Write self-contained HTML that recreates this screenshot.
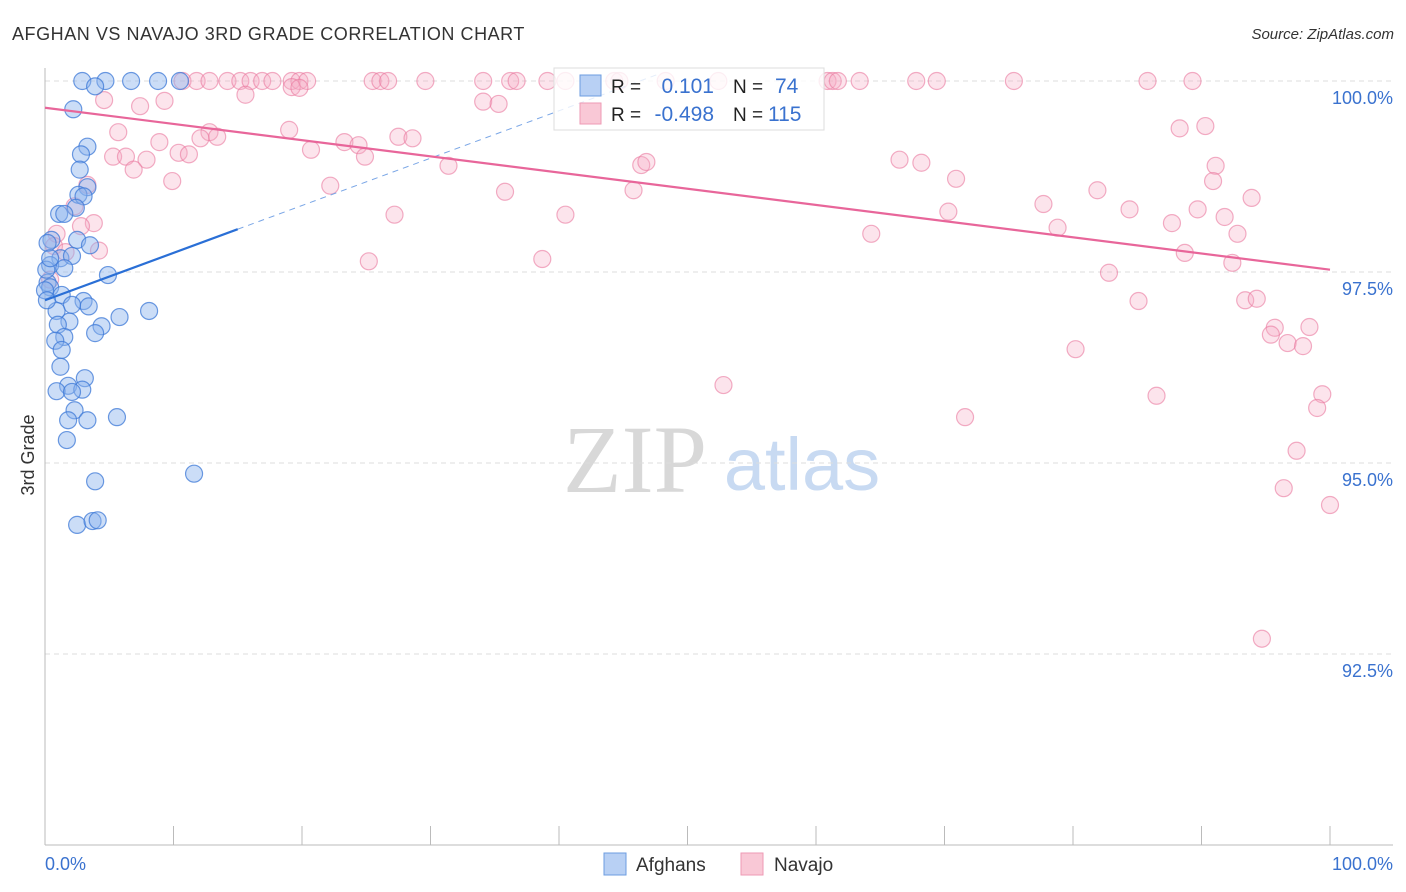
<!DOCTYPE html>
<html><head><meta charset="utf-8">
<style>
body{margin:0;background:#fff;font-family:"Liberation Sans",sans-serif;}
svg{display:block}
</style></head>
<body>
<svg id="chart" width="1406" height="892" viewBox="0 0 1406 892" xmlns="http://www.w3.org/2000/svg">
<text x="12" y="40" font-size="18" letter-spacing="0.55" fill="#333">AFGHAN VS NAVAJO 3RD GRADE CORRELATION CHART</text>
<text x="1394" y="39" font-size="15" fill="#333" font-style="italic" text-anchor="end">Source: ZipAtlas.com</text>
<g>
<text x="635" y="492" font-size="96" fill="#d8d8d8" text-anchor="middle" font-family="Liberation Serif, serif">ZIP</text>
<text x="802" y="490" font-size="74" fill="#c8daf2" text-anchor="middle">atlas</text>
</g>
<g id="grid"></g>
<g id="axes"></g>
<g id="points"></g>
<g id="lines"></g>
<g>
<rect x="554" y="68" width="270" height="62" fill="rgba(255,255,255,0.8)" stroke="#ddd"/>
<rect x="580" y="75" width="21" height="21" fill="#b8d0f4" stroke="#6d9de0"/>
<rect x="580" y="103" width="21" height="21" fill="#f9c8d6" stroke="#ee9ab4"/>
<text x="611" y="93" font-size="19" fill="#222">R =</text>
<text x="714" y="93" font-size="21" fill="#3a72cf" text-anchor="end">0.101</text>
<text x="733" y="93" font-size="19" fill="#222">N =</text>
<text x="775" y="93" font-size="21" fill="#3a72cf">74</text>
<text x="611" y="121" font-size="19" fill="#222">R =</text>
<text x="714" y="121" font-size="21" fill="#3a72cf" text-anchor="end">-0.498</text>
<text x="733" y="121" font-size="19" fill="#222">N =</text>
<text x="768" y="121" font-size="21" fill="#3a72cf">115</text>
</g>
<g>
<rect x="604" y="853" width="22" height="22" fill="#b8d0f4" stroke="#6d9de0"/>
<text x="636" y="871" font-size="19" fill="#333">Afghans</text>
<rect x="741" y="853" width="22" height="22" fill="#f9c8d6" stroke="#ee9ab4"/>
<text x="774" y="871" font-size="19" fill="#333">Navajo</text>
</g>
<text transform="translate(34,455) rotate(-90)" font-size="18" fill="#333" text-anchor="middle">3rd Grade</text>
</svg>
<script>
const yTicks=[100,97.5,95,92.5];
const yTickLabels=["100.0%","97.5%","95.0%","92.5%"];
const xTickLabels=["0.0%","100.0%"];
const afghanX=[2.9,6.7,8.8,10.5,4.7,3.9,2.2,3.3,2.8,2.7,3.3,2.6,3.0,2.4,1.1,1.5,0.5,0.2,2.5,1.2,2.1,0.4,1.5,4.9,0.2,0.4,1.3,0,3.0,3.4,2.1,0.9,8.1,5.8,1.9,1.0,4.4,3.9,1.5,0.8,1.3,1.2,3.1,1.8,0.9,2.9,2.1,2.3,5.6,3.3,1.7,11.6,3.9,2.5,3.7,4.1,0.15,0.1,0.4,1.8,3.5];
const afghanY=[100,100,100,100,100,99.93,99.63,99.14,99.04,98.84,98.61,98.51,98.49,98.34,98.26,98.26,97.92,97.88,97.92,97.68,97.71,97.59,97.55,97.46,97.36,97.30,97.20,97.26,97.12,97.05,97.07,96.99,96.99,96.91,96.85,96.81,96.79,96.70,96.65,96.60,96.48,96.26,96.11,96.01,95.94,95.96,95.93,95.69,95.60,95.56,95.30,94.86,94.76,94.19,94.24,94.25,97.13,97.53,97.68,95.56,97.85];
const navajoX=[10.7,11.8,12.8,14.2,15.2,16.0,16.9,17.7,19.2,19.8,20.4,25.5,26.1,26.7,29.6,34.1,36.2,36.7,39.1,40.5,44.3,44.7,48.3,52.4,60.9,61.3,61.7,63.4,67.8,69.4,75.4,85.8,89.3,19.2,19.8,4.6,7.4,9.3,34.1,35.3,15.6,5.7,12.8,13.4,19.0,8.9,12.1,23.3,24.4,27.5,28.6,88.3,90.3,5.3,6.3,7.9,10.4,11.2,20.7,24.9,6.9,9.9,22.2,31.4,46.4,46.8,66.5,68.2,91.1,90.9,70.9,35.8,45.8,81.9,93.9,3.3,2.3,3.8,2.8,27.2,40.5,70.3,77.7,84.4,89.7,91.8,87.7,78.8,92.8,64.3,0.9,0.7,4.2,1.6,25.2,38.7,88.7,92.4,82.8,0.4,85.1,93.4,94.3,95.7,98.4,95.4,96.7,97.9,80.2,52.8,86.5,99.4,99.0,71.6,97.4,96.4,100,94.7];
const navajoY=[100,100,100,100,100,100,100,100,100,100,100,100,100,100,100,100,100,100,100,100,100,100,100,100,100,100,100,100,100,100,100,100,100,99.92,99.91,99.75,99.67,99.74,99.73,99.70,99.82,99.33,99.33,99.27,99.36,99.20,99.25,99.20,99.16,99.27,99.25,99.38,99.41,99.01,99.01,98.97,99.06,99.04,99.10,99.01,98.84,98.69,98.63,98.89,98.90,98.94,98.97,98.93,98.89,98.69,98.72,98.55,98.57,98.57,98.47,98.64,98.36,98.14,98.10,98.25,98.25,98.29,98.39,98.32,98.32,98.22,98.14,98.08,98.00,98.00,98.00,97.84,97.78,97.76,97.64,97.67,97.75,97.62,97.49,97.40,97.12,97.13,97.15,96.77,96.78,96.68,96.57,96.53,96.49,96.02,95.88,95.90,95.72,95.60,95.16,94.67,94.45,92.70];
const afghanTrendX=[0,15];
const afghanTrendY=[97.13,98.06];
const navajoTrendX=[0,100];
const navajoTrendY=[99.65,97.53];

const NS="http://www.w3.org/2000/svg";
const X0=45,X1=1330,Ytop=81,PXPER=76.4;
function sx(v){return X0+(X1-X0)*v/100;}
function sy(v){return Ytop+(100-v)*PXPER;}
function mk(tag,attrs,parent){const e=document.createElementNS(NS,tag);for(const k in attrs)e.setAttribute(k,attrs[k]);parent.appendChild(e);return e;}
const grid=document.getElementById('grid'),axes=document.getElementById('axes'),pts=document.getElementById('points'),lines=document.getElementById('lines');
yTicks.forEach((t,i)=>{
  const l=mk('line',{x1:X0,x2:1393,y1:sy(t),y2:sy(t),stroke:'#ddd','stroke-dasharray':'5,4'},grid);
  
  
  const tx=mk('text',{x:1393,y:sy(t)+23,'font-size':18,fill:'#3a72cf','text-anchor':'end'},axes);
  tx.textContent=yTickLabels[i];
  
  
});
const ax=mk('line',{x1:X0,x2:X0,y1:68,y2:845,stroke:'#bbb'},axes);


const bx=mk('line',{x1:X0,x2:1393,y1:845,y2:845,stroke:'#bbb'},axes);


for(let i=0;i<=10;i++){
  const t=mk('line',{x1:sx(i*10),x2:sx(i*10),y1:826,y2:845,stroke:'#bbb'},axes);
  
  
}
[[0,'start',45],[100,'end',1393]].forEach((d,i)=>{
  const t=mk('text',{x:d[2],y:870,'font-size':18,fill:'#3a72cf','text-anchor':d[1]},axes);
  t.textContent=xTickLabels[i];
  
  
});
navajoX.forEach((x,i)=>{
  const c=mk('circle',{cx:sx(x),cy:sy(navajoY[i]),r:8.5,fill:'rgba(246,170,195,0.32)',stroke:'rgba(234,120,158,0.6)','stroke-width':1.2},pts);
  
  
});
afghanX.forEach((x,i)=>{
  const c=mk('circle',{cx:sx(x),cy:sy(afghanY[i]),r:8.5,fill:'rgba(140,180,238,0.45)',stroke:'rgba(60,120,215,0.75)','stroke-width':1.2},pts);
  
  
});
const bl=mk('line',{x1:sx(afghanTrendX[0]),y1:sy(afghanTrendY[0]),x2:sx(afghanTrendX[1]),y2:sy(afghanTrendY[1]),stroke:'#2a6fd6','stroke-width':2.2},lines);


const slope=(afghanTrendY[1]-afghanTrendY[0])/(afghanTrendX[1]-afghanTrendX[0]);
const xe=afghanTrendX[0]+(100.1-afghanTrendY[0])/slope;
const bd=mk('line',{x1:sx(afghanTrendX[1]),y1:sy(afghanTrendY[1]),x2:sx(xe),y2:sy(100.1),stroke:'#7aa6e6','stroke-width':1,'stroke-dasharray':'6,5'},lines);


const nl=mk('line',{x1:sx(navajoTrendX[0]),y1:sy(navajoTrendY[0]),x2:sx(navajoTrendX[1]),y2:sy(navajoTrendY[1]),stroke:'#e8669a','stroke-width':2.2},lines);


</script>
</body></html>
